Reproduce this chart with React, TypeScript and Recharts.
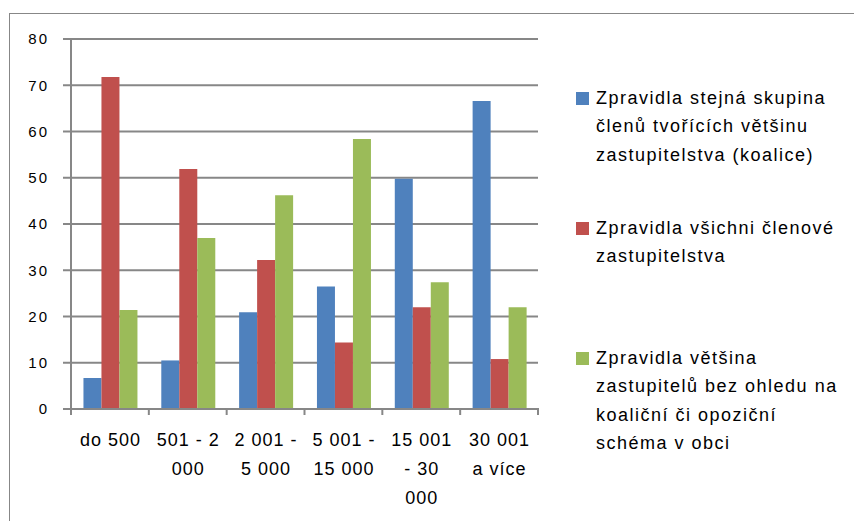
import { Bar, BarChart, CartesianGrid, Legend, XAxis, YAxis } from 'recharts'

const categories = ['do 500', '501 - 2\n000', '2 001 -\n5 000', '5 001 -\n15 000', '15 001\n- 30\n000', '30 001\na více']
const stejnaSkupina = [6.7, 10.5, 20.9, 26.5, 49.8, 66.6]
const vsichniClenove = [71.8, 51.9, 32.2, 14.4, 22.0, 10.8]
const vetsinaZastupitelu = [21.4, 37.0, 46.2, 58.4, 27.4, 22.0]
const yTicks = [0, 10, 20, 30, 40, 50, 60, 70, 80]

const seriesNames = [
  'Zpravidla stejná skupina\nčlenů tvořících většinu\nzastupitelstva (koalice)',
  'Zpravidla všichni členové\nzastupitelstva',
  'Zpravidla většina\nzastupitelů bez ohledu na\nkoaliční či opoziční\nschéma v obci',
]

const data = categories.map((name, i) => ({
  name,
  a: stejnaSkupina[i],
  b: vsichniClenove[i],
  c: vetsinaZastupitelu[i],
}))

const GRAY = '#878787'
const FONT = '"Liberation Sans", Arial, sans-serif'

function CategoryTick(props: any) {
  const { x, y, payload, index } = props
  const half = payload?.offset ?? 39
  const lines = String(payload.value).split('\n')
  return (
    <g>
      <line x1={x - half} x2={x - half} y1={y - 7} y2={y} stroke={GRAY} strokeWidth={2} />
      {index === categories.length - 1 && (
        <line x1={x + half} x2={x + half} y1={y - 7} y2={y} stroke={GRAY} strokeWidth={2} />
      )}
      <text x={x} y={y + 31} textAnchor="middle" fontSize={18} fontFamily={FONT} fill="#000" letterSpacing={1}>
        {lines.map((l, i) => (
          <tspan key={i} x={x + 0.5} dy={i === 0 ? 0 : 29}>
            {l}
          </tspan>
        ))}
      </text>
    </g>
  )
}

function LegendContent(props: any) {
  const { payload } = props
  const items = [...(payload || [])].sort((p: any, q: any) => String(p.dataKey).localeCompare(String(q.dataKey)))
  return (
    <div style={{ fontFamily: FONT, fontSize: 18, lineHeight: '28.3px', color: '#000', letterSpacing: 1.5 }}>
      {items.map((p: any, i: number) => (
        <div key={i} style={{ position: 'relative', height: 130, paddingLeft: 20, whiteSpace: 'pre' }}>
          <span
            style={{ position: 'absolute', left: 0, top: 8, width: 13, height: 13, background: p.color }}
          />
          {p.value}
        </div>
      ))}
    </div>
  )
}

export default function App() {
  return (
    <div style={{ position: 'absolute', left: 0, top: 0, width: 854, height: 521, background: '#fff', overflow: 'hidden' }}>
      <div
        style={{
          position: 'absolute',
          left: 9,
          top: 13,
          width: 900,
          height: 600,
          borderTop: `1px solid ${GRAY}`,
          borderLeft: `1px solid ${GRAY}`,
        }}
      />
      <BarChart
        width={854}
        height={521}
        data={data}
        margin={{ top: 39, right: 316, bottom: 82, left: 0 }}
        barCategoryGap="16%"
        barGap={0}
        style={{ position: 'absolute', left: 0, top: 0 }}
      >
        <CartesianGrid vertical={false} stroke={GRAY} strokeWidth={2} />
        <XAxis
          dataKey="name"
          height={30}
          axisLine={{ stroke: GRAY, strokeWidth: 2 }}
          tickLine={false}
          tickSize={6}
          tickMargin={0}
          interval={0}
          tick={<CategoryTick />}
        />
        <YAxis
          width={71}
          domain={[0, 80]}
          ticks={yTicks}
          interval={0}
          axisLine={{ stroke: GRAY, strokeWidth: 2 }}
          tickLine={{ stroke: GRAY, strokeWidth: 2 }}
          tickSize={8}
          tickMargin={14}
          tick={{ fontSize: 15, fontFamily: FONT, fill: '#000', letterSpacing: 2 }}
        />
        <Legend
          layout="vertical"
          align="center"
          verticalAlign="middle"
          wrapperStyle={{ left: 576, top: 84, width: 275 }}
          content={<LegendContent />}
        />
        <Bar dataKey="a" name={seriesNames[0]} fill="#4F81BD" isAnimationActive={false} />
        <Bar dataKey="b" name={seriesNames[1]} fill="#C0504D" isAnimationActive={false} />
        <Bar dataKey="c" name={seriesNames[2]} fill="#9BBB59" isAnimationActive={false} />
      </BarChart>
    </div>
  )
}
